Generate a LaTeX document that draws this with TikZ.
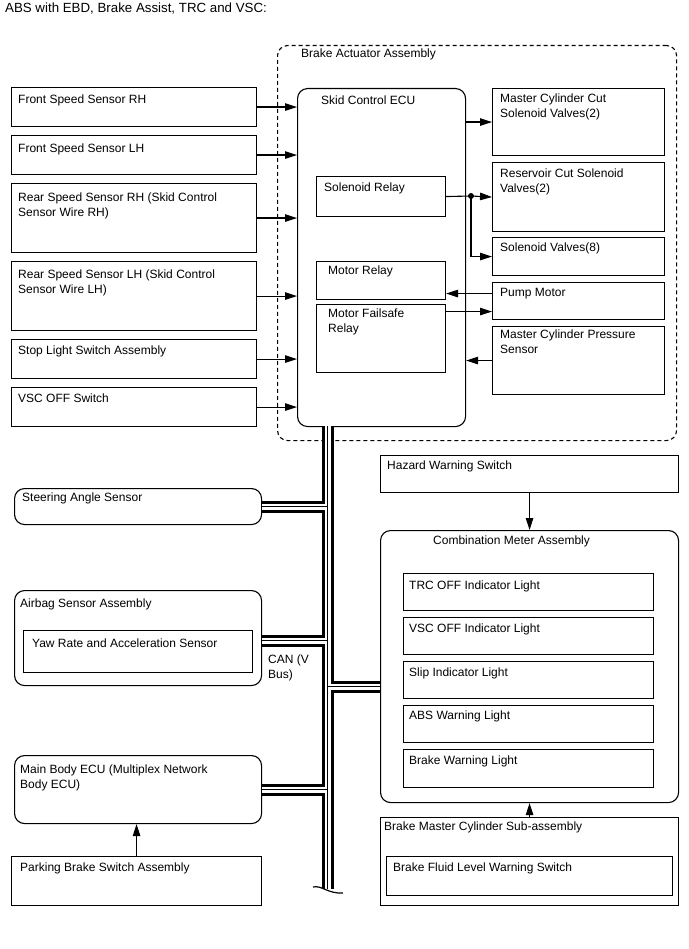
\documentclass[tikz,border=0pt]{standalone}
\usepackage{fontspec}
\setmainfont{Liberation Sans}
\usetikzlibrary{arrows.meta,positioning}

\begin{document}
\begin{tikzpicture}[x=1pt,y=-1pt,
  box/.style={draw,line width=1.1pt,inner sep=0pt,anchor=north west},
  rbox/.style={box,rounded corners=10pt},
  txt/.style={anchor=north west,inner sep=0pt,align=left,font=\fontsize{12}{15}\selectfont},
  sig/.style={line width=1.1pt,-{Triangle[length=12pt,width=7.5pt]}},
]
\useasboundingbox (0,0) rectangle (688,949);

\node[txt,font=\fontsize{13.3}{16}\selectfont] (title) at (5,3) {ABS with EBD, Brake Assist, TRC and VSC:};

% brake actuator assembly
\node[rbox,dashed,dash pattern=on 4pt off 3pt,minimum width=399pt,minimum height=395pt] (actuator) at (277,45) {};
\node[txt] (actuator-t) at ([shift={(24,4)}]actuator.north west) {Brake Actuator Assembly};

\node[rbox,minimum width=168pt,minimum height=338pt] (ecu) at (297,88) {};
\node[txt] (ecu-t) at ([shift={(24,8)}]ecu.north west) {Skid Control ECU};
\node[box,minimum width=129pt,minimum height=40pt] (solrelay) at (316,176) {};
\node[txt] (solrelay-t) at ([shift={(8,7)}]solrelay.north west) {Solenoid Relay};
\node[box,minimum width=129pt,minimum height=38pt] (mrelay) at (316,261) {};
\node[txt] (mrelay-t) at ([shift={(12,5)}]mrelay.north west) {Motor Relay};
\node[box,minimum width=129pt,minimum height=68pt] (mfs) at (316,304) {};
\node[txt] (mfs-t) at ([shift={(12,5)}]mfs.north west) {Motor Failsafe\\Relay};

\node[box,minimum width=172pt,minimum height=67pt] (mcc) at (492,88) {};
\node[txt] (mcc-t) at ([shift={(8,6)}]mcc.north west) {Master Cylinder Cut\\Solenoid Valves(2)};
\node[box,minimum width=172pt,minimum height=69pt] (rcv) at (492,162) {};
\node[txt] (rcv-t) at ([shift={(8,7)}]rcv.north west) {Reservoir Cut Solenoid\\Valves(2)};
\node[box,minimum width=172pt,minimum height=38pt] (solv) at (492,237) {};
\node[txt] (solv-t) at ([shift={(8,6)}]solv.north west) {Solenoid Valves(8)};
\node[box,minimum width=172pt,minimum height=37pt] (pump) at (492,282) {};
\node[txt] (pump-t) at ([shift={(8,6)}]pump.north west) {Pump Motor};
\node[box,minimum width=172pt,minimum height=68pt] (mcp) at (492,326) {};
\node[txt] (mcp-t) at ([shift={(8,4)}]mcp.north west) {Master Cylinder Pressure\\Sensor};

% sensors and switches
\node[box,minimum width=245pt,minimum height=39pt] (fsrh) at (11,87) {};
\node[txt] (fsrh-t) at ([shift={(7,8)}]fsrh.north west) {Front Speed Sensor RH};
\node[box,minimum width=245pt,minimum height=39pt] (fslh) at (11,135) {};
\node[txt] (fslh-t) at ([shift={(7,9)}]fslh.north west) {Front Speed Sensor LH};
\node[box,minimum width=245pt,minimum height=69pt] (rsrh) at (11,183) {};
\node[txt] (rsrh-t) at ([shift={(7,10)}]rsrh.north west) {Rear Speed Sensor RH (Skid Control\\Sensor Wire RH)};
\node[box,minimum width=245pt,minimum height=69pt] (rslh) at (11,261) {};
\node[txt] (rslh-t) at ([shift={(7,9)}]rslh.north west) {Rear Speed Sensor LH (Skid Control\\Sensor Wire LH)};
\node[box,minimum width=245pt,minimum height=39pt] (stop) at (11,339) {};
\node[txt] (stop-t) at ([shift={(7,7)}]stop.north west) {Stop Light Switch Assembly};
\node[box,minimum width=245pt,minimum height=39pt] (vscsw) at (11,387) {};
\node[txt] (vscsw-t) at ([shift={(7,7)}]vscsw.north west) {VSC OFF Switch};

\foreach \n in {fsrh,fslh,rsrh,rslh,stop,vscsw}
  \draw[sig] (\n.east) -- (\n.east -| ecu.west);
\draw[sig] (mcc.west -| ecu.east) -- (mcc.west);
\coordinate (split) at (471,196);
\draw[sig] (solrelay.east) -- (split) -- (rcv.west);
\draw[sig] (split) |- (solv.west);
\fill (split) circle (3pt);
\draw[sig] ([yshift=7.5pt]pump.west) -- ([yshift=7.5pt]pump.west -| mrelay.east);
\draw[sig] ([yshift=-10.5pt]pump.west -| mfs.east) -- ([yshift=-10.5pt]pump.west);
\draw[sig] (mcp.west) -- (mcp.west -| ecu.east);

% CAN side
\node[rbox,minimum width=247pt,minimum height=36pt] (steer) at (14,488) {};
\node[txt] (steer-t) at ([shift={(8,5)}]steer.north west) {Steering Angle Sensor};
\node[rbox,minimum width=247pt,minimum height=95pt] (airbag) at (14,590) {};
\node[txt] (airbag-t) at ([shift={(6,9)}]airbag.north west) {Airbag Sensor Assembly};
\node[box,minimum width=229pt,minimum height=42pt] (yaw) at (23,630) {};
\node[txt] (yaw-t) at ([shift={(9,9)}]yaw.north west) {Yaw Rate and Acceleration Sensor};
\node[rbox,minimum width=247pt,minimum height=68pt] (mbecu) at (14,755) {};
\node[txt] (mbecu-t) at ([shift={(6,10)}]mbecu.north west) {Main Body ECU (Multiplex Network\\Body ECU)};
\node[box,minimum width=250pt,minimum height=49pt] (park) at (11,856) {};
\node[txt] (park-t) at ([shift={(9,7)}]park.north west) {Parking Brake Switch Assembly};
\draw[sig] (park.north) -- (park.north |- mbecu.south);

\node[box,minimum width=298pt,minimum height=37pt] (hazard) at (380,455) {};
\node[txt] (hazard-t) at ([shift={(7,6)}]hazard.north west) {Hazard Warning Switch};
\node[rbox,minimum width=298pt,minimum height=272pt] (comb) at (380,530) {};
\node[txt] (comb-t) at ([shift={(53,6)}]comb.north west) {Combination Meter Assembly};
\node[box,minimum width=250pt,minimum height=37pt] (trc) at (403,573) {};
\node[txt] (trc-t) at ([shift={(6,8)}]trc.north west) {TRC OFF Indicator Light};
\node[box,minimum width=250pt,minimum height=37pt] (vscind) at (403,617) {};
\node[txt] (vscind-t) at ([shift={(6,7)}]vscind.north west) {VSC OFF Indicator Light};
\node[box,minimum width=250pt,minimum height=37pt] (slip) at (403,661) {};
\node[txt] (slip-t) at ([shift={(6,7)}]slip.north west) {Slip Indicator Light};
\node[box,minimum width=250pt,minimum height=37pt] (abs) at (403,705) {};
\node[txt] (abs-t) at ([shift={(6,6)}]abs.north west) {ABS Warning Light};
\node[box,minimum width=250pt,minimum height=38pt] (brakew) at (403,749) {};
\node[txt] (brakew-t) at ([shift={(6,7)}]brakew.north west) {Brake Warning Light};
\node[box,minimum width=298pt,minimum height=88pt] (bmc) at (380,817) {};
\node[txt] (bmc-t) at ([shift={(4,5)}]bmc.north west) {Brake Master Cylinder Sub-assembly};
\node[box,minimum width=286pt,minimum height=39pt] (fluid) at (386,856) {};
\node[txt] (fluid-t) at ([shift={(7,7)}]fluid.north west) {Brake Fluid Level Warning Switch};
\draw[sig] (hazard.south) -- (comb.north);
\draw[sig] (bmc.north) -- (comb.south);

% CAN bus
\coordinate (bustop) at (327.5,426);
\coordinate (busend) at (327.5,889);
\foreach \w/\c in {12/black,6/white,1/black}
  \draw[line width=\w pt,\c] (bustop) -- (busend)
    (steer.east) -- (steer.east -| bustop)
    ([yshift=-2.5pt]airbag.east) -- ([yshift=-2.5pt]airbag.east -| bustop)
    ([yshift=-20pt]comb.west) -- ([yshift=-20pt]comb.west -| bustop)
    (mbecu.east) -- (mbecu.east -| bustop);
\draw[line width=1.2pt] (313,887) .. controls (322,885) and (328,894) .. (343,893);
\node[txt] (can) at (268,655) {CAN (V\\Bus)};
\end{tikzpicture}
\end{document}
